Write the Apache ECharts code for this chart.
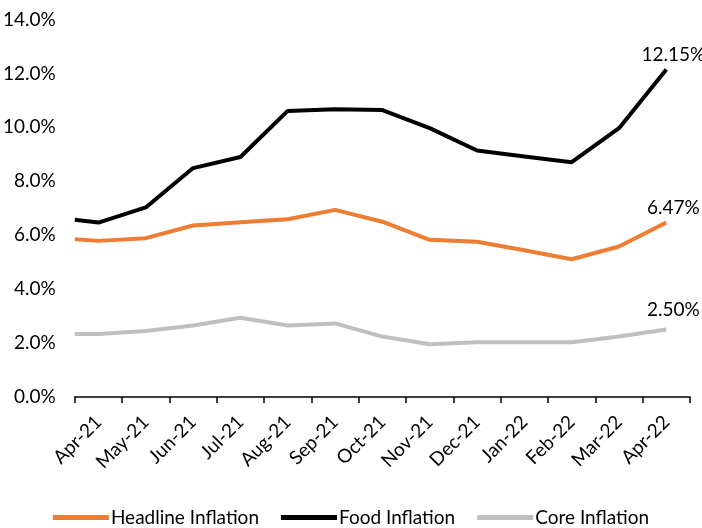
<!DOCTYPE html>
<html><head><meta charset="utf-8">
<script src="https://cdn.jsdelivr.net/npm/echarts@6/dist/echarts.min.js"></script>
<style>html,body{margin:0;padding:0;background:#fff}#c{width:702px;height:528px}</style>
</head><body><div id="c"></div>
<script>
const categories = ['Apr-21','May-21','Jun-21','Jul-21','Aug-21','Sep-21','Oct-21','Nov-21','Dec-21','Jan-22','Feb-22','Mar-22','Apr-22'];
// value at the left edge of the plot (line enters from the axis)
const headlineLead = 5.85;
const foodLead = 6.57;
const coreLead = 2.34;
const headline = [5.79, 5.89, 6.36, 6.48, 6.59, 6.94, 6.50, 5.83, 5.76, 5.44, 5.11, 5.58, 6.47];
const food = [6.47, 7.03, 8.49, 8.90, 10.61, 10.67, 10.64, 9.97, 9.14, 8.92, 8.71, 9.97, 12.15];
const core = [2.34, 2.45, 2.65, 2.94, 2.65, 2.73, 2.24, 1.96, 2.03, 2.03, 2.03, 2.24, 2.50];
const yTicks = [0, 2, 4, 6, 8, 10, 12, 14];

const FONT = 'Lato';
function build(lead, vals) {
  const d = [[-0.5, lead]];
  vals.forEach((v, i) => {
    if (i === vals.length - 1) d.push({ value: [i, v], label: { show: true } });
    else d.push([i, v]);
  });
  return d;
}
function mkSeries(name, lead, vals, color, offset) {
  return {
    name, type: 'line', xAxisIndex: 1, data: build(lead, vals),
    symbol: 'circle', symbolSize: 0.01, showSymbol: true, showAllSymbol: true,
    lineStyle: { color, width: 4, join: 'round' }, itemStyle: { color },
    label: { show: false, position: 'top', distance: 5, offset, color: '#000', fontFamily: FONT, fontSize: 19,
      formatter: p => p.value[1].toFixed(2) + '%' },
    emphasis: { disabled: true }
  };
}
const chart = echarts.init(document.getElementById('c'), null, { renderer: 'canvas' });
chart.setOption({
  animation: false,
  textStyle: { fontFamily: FONT },
  grid: { left: 74, right: 12, top: 19.5, bottom: 131, containLabel: false },
  legend: {
    top: 503, left: 'center', itemWidth: 56, itemHeight: 5, itemGap: 22, icon: 'rect',
    textStyle: { fontFamily: FONT, fontSize: 19, color: '#000', padding: [0, 0, 0, -3] },
    data: ['Headline Inflation', 'Food Inflation', 'Core Inflation']
  },
  xAxis: [
    { type: 'category', data: categories, boundaryGap: true,
      axisLine: { lineStyle: { color: '#000', width: 1.5 } },
      axisTick: { show: true, length: 6, lineStyle: { color: '#000', width: 1.5 } },
      axisLabel: { rotate: 45, color: '#000', fontFamily: FONT, fontSize: 19, margin: 22, interval: 0 },
      splitLine: { show: false } },
    { type: 'value', min: -0.5, max: 12.5, show: false, splitLine: { show: false } }
  ],
  yAxis: {
    type: 'value', min: yTicks[0], max: yTicks[yTicks.length - 1], interval: 2,
    axisLine: { show: false }, axisTick: { show: false }, splitLine: { show: false },
    axisLabel: { color: '#000', fontFamily: FONT, fontSize: 19, margin: 19, formatter: v => v.toFixed(1) + '%' }
  },
  series: [
    mkSeries('Headline Inflation', headlineLead, headline, '#ED7D31', [7, 0]),
    mkSeries('Food Inflation', foodLead, food, '#000000', [7, 0]),
    mkSeries('Core Inflation', coreLead, core, '#BFBFBF', [7, -5])
  ]
});
</script></body></html>
